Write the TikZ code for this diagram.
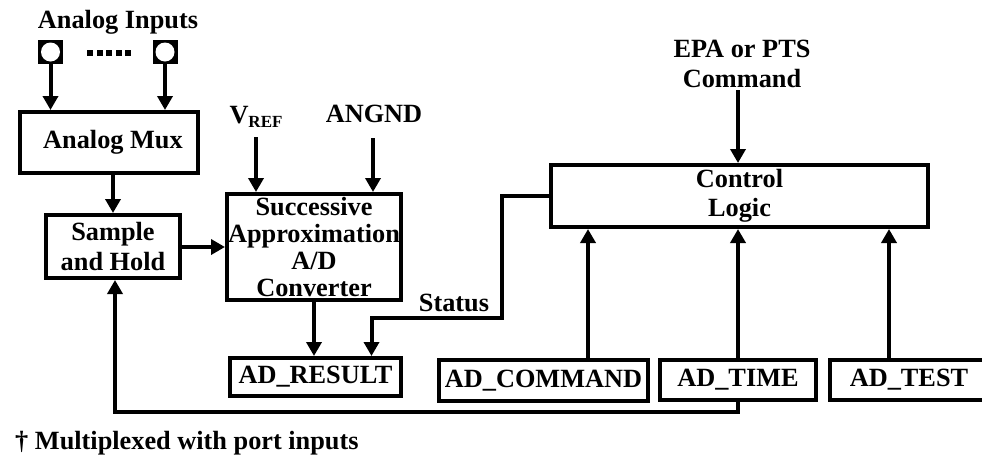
\documentclass[tikz,border=0pt]{standalone}
\usepackage{fontspec}
\setmainfont{Liberation Serif}
\usetikzlibrary{arrows.meta}

\begin{document}
\begin{tikzpicture}[x=1pt, y=-1pt, font=\bfseries\fontsize{26.3}{29.5}\selectfont]
        \tikzstyle{block}=[draw, line width=4pt, inner sep=0pt, align=center]
        \tikzstyle{lbl}=[inner sep=0pt, align=center]
        \tikzstyle{port}=[fill=black, inner sep=0pt, minimum width=25pt, minimum height=24pt]
        \tikzstyle{arr}=[line width=4pt, -{Triangle[width=15pt,length=14pt]}]

        \useasboundingbox (0,0) rectangle (982,461);

% analog inputs, mux and sample/hold
        \node[lbl] (ain) at (118,22) {Analog Inputs};
        \node[port] (in1) at (50.5,52) {};
        \node[port] (in2) at (165,52) {};
        \fill[white] (in1) circle (9.5pt) (in2) circle (9.5pt);
        \foreach \d in {0,...,4} \fill (87+\d*9.5,50) rectangle ++(6,6);

        \node[block, minimum width=178pt, minimum height=61pt] (mux) at (109,142.5) {\hspace*{8pt}Analog Mux};
        \node[block, minimum width=134pt, minimum height=63pt] (sh) at (113,246.5) {Sample\\and Hold};

        \draw[arr] (in1.south) -- (in1.south |- mux.north);
        \draw[arr] (in2.south) -- (in2.south |- mux.north);
        \draw[arr] (mux.south -| sh.north) -- (sh.north);

% converter
        \node[block, minimum width=174pt, minimum height=106pt, font=\bfseries\fontsize{26.3}{27}\selectfont] (sa) at (314,247) {Successive\\Approximation\\A/D\\Converter};
        \node[lbl] (vref) at (256,117) {V\raisebox{-0.35ex}{\fontsize{17}{17}\selectfont REF}};
        \node[lbl] (angnd) at (374,114) {ANGND};
        \coordinate (vrefend) at (256,137);
        \coordinate (angndend) at (373,138);
        \draw[arr] (vrefend) -- (vrefend |- sa.north);
        \draw[arr] (angndend) -- (angndend |- sa.north);
        \draw[arr] (sh.east |- sa.west) -- (sa.west);

        \node[block, minimum width=171pt, minimum height=38pt] (res) at (315.5,377) {AD\_RESULT};
        \draw[arr] (sa.south) -- (sa.south |- res.north);

% control logic and registers
        \node[lbl] (epa) at (742,64) {EPA or PTS\\Command};
        \node[block, minimum width=377pt, minimum height=62pt] (ctrl) at (739.5,196) {Control\\Logic};
        \coordinate (epaend) at (738,90);
        \draw[arr] (epaend) -- (epaend |- ctrl.north);

        \node[block, minimum width=209pt, minimum height=41pt] (cmd) at (543.5,380.5) {AD\_COMMAND};
        \node[block, minimum width=156pt, minimum height=40pt] (time) at (738,380) {AD\_TIME};
        \node[block, minimum width=158pt, minimum height=40pt] (test) at (909,380) {AD\_TEST};

        \draw[arr] ([xshift=44.5pt]cmd.north) -- ([xshift=44.5pt]cmd.north |- ctrl.south);
        \draw[arr] (time.north) -- (time.north |- ctrl.south);
        \draw[arr] ([xshift=-20pt]test.north) -- ([xshift=-20pt]test.north |- ctrl.south);

% status and feedback
        \node[lbl] (status) at (454,303) {Status};
        \coordinate (stat) at (502,318);
        \draw[arr] (ctrl.west) -| (stat) -| ([xshift=56pt]res.north);
        \draw[arr] (time.south) -- ++(0,10) -| ([xshift=2pt]sh.south);

        \node[lbl, anchor=west] (note) at (15,443) {† Multiplexed with port inputs};

    \end{tikzpicture}
\end{document}
